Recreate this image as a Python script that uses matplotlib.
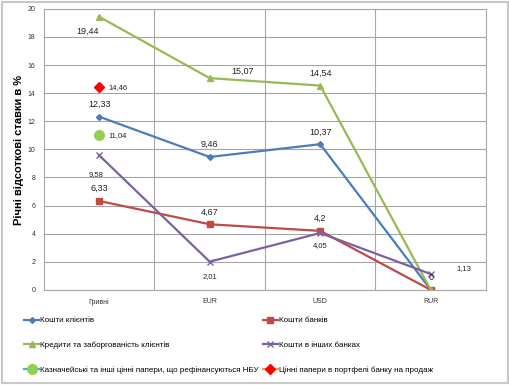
import matplotlib.pyplot as plt
import numpy as np

plt.rcParams['font.family'] = ['Liberation Sans', 'DejaVu Sans']

# categories and series values
categories = ['Гривні', 'EUR', 'USD', 'RUR']
klienty = [12.33, 9.46, 10.37, 0]
banky = [6.33, 4.67, 4.2, 0]
kredyty = [19.44, 15.07, 14.54, 0]
inshi_banky = [9.58, 2.01, 4.05, 1.13]
kaznach = [11.04]
papery = [14.46]

names = ['Кошти клієнтів', 'Кошти банків',
         'Кредити та заборгованість клієнтів', 'Кошти в інших банках',
         'Казначейські та інші цінні папери, що рефінансуються НБУ',
         'Цінні папери в портфелі банку на продаж']

x = np.arange(len(categories))

fig = plt.figure(figsize=(5.1, 3.85), dpi=100)
ax = fig.add_axes([0.086, 0.247, 0.867, 0.730])

h1, = ax.plot(x, klienty, color='#4A7EBB', lw=1.6, marker='D', ms=3)
h2, = ax.plot(x, banky, color='#BE4B48', lw=1.6, marker='s', ms=5)
h3, = ax.plot(x, kredyty, color='#98B954', lw=1.6, marker='^', ms=4.5)
h4, = ax.plot(x, inshi_banky, color='#7D60A0', lw=1.6, marker='x', ms=4, mew=1)
h5, = ax.plot(x[:1], kaznach, color='#4BACC6', lw=1.6, marker='o', ms=7,
              mfc='#92D050', mec='#92D050')
h6, = ax.plot(x[:1], papery, color='#F79646', lw=1.6, marker='D', ms=5,
              mfc='#FF0000', mec='#FF0000')

def fmt(v):
    return ('%g' % v).replace('.', ',')

lab = dict(fontsize=6.5, color='#222222')
# labels above the points
for i, v in enumerate(klienty[:3]):
    ax.annotate(fmt(v), (x[i], v), xytext=(0, 7), textcoords='offset points', ha='center', **lab)
for i, v in enumerate(banky[:3]):
    ax.annotate(fmt(v), (x[i], v), xytext=(0, 7), textcoords='offset points', ha='center', **lab)
ax.annotate(fmt(kredyty[0]), (x[0], kredyty[0]), xytext=(-8, -12), textcoords='offset points', ha='center', **lab)
ax.annotate(fmt(kredyty[1]), (x[1], kredyty[1]), xytext=(24, 3), textcoords='offset points', ha='center', **lab)
ax.annotate(fmt(kredyty[2]), (x[2], kredyty[2]), xytext=(0, 7), textcoords='offset points', ha='center', **lab)
ax.annotate(fmt(kredyty[3]), (x[3], kredyty[3]), xytext=(0, 7), textcoords='offset points', ha='center', **lab)
small = dict(fontsize=5.5, color='#222222')
ax.annotate(fmt(inshi_banky[0]), (x[0], inshi_banky[0]), xytext=(-2, -15), textcoords='offset points', ha='center', **small)
ax.annotate(fmt(inshi_banky[1]), (x[1], inshi_banky[1]), xytext=(0, -12), textcoords='offset points', ha='center', **small)
ax.annotate(fmt(inshi_banky[2]), (x[2], inshi_banky[2]), xytext=(0, -10), textcoords='offset points', ha='center', **small)
ax.annotate(fmt(inshi_banky[3]), (x[3], inshi_banky[3]), xytext=(24, 3), textcoords='offset points', ha='center', **small)
ax.annotate(fmt(kaznach[0]), (x[0], kaznach[0]), xytext=(7, -2), textcoords='offset points', ha='left', **small)
ax.annotate(fmt(papery[0]), (x[0], papery[0]), xytext=(7, -2), textcoords='offset points', ha='left', **small)

ax.set_xlim(-0.5, 3.5)
ax.set_ylim(0, 20)
ax.set_yticks(range(0, 21, 2))
ax.set_xticks(x)
ax.set_xticklabels(categories)
ax.tick_params(labelsize=5, length=0, colors='#333333', pad=6)
ax.set_xticks([0.5, 1.5, 2.5], minor=True)
ax.tick_params(which='minor', length=0)
ax.grid(True, axis='y', color='#A6A6A6', lw=0.8)
ax.grid(True, axis='x', which='minor', color='#A6A6A6', lw=0.8)
for s in ax.spines.values():
    s.set_color('#A6A6A6')
    s.set_linewidth(0.8)

fig.text(0.037, 0.61, 'Річні відсоткові ставки в %', rotation=90, fontsize=8,
         fontweight='bold', ha='center', va='center')

# two legend columns placed separately
leg_kw = dict(loc='upper left', frameon=False, fontsize=5.8, handlelength=1.9,
              handletextpad=0.15, labelspacing=2.1, borderaxespad=0, borderpad=0)
leg1 = fig.legend([h1, h3, h5], [names[0], names[2], names[4]],
                  bbox_to_anchor=(0.047, 0.177), **leg_kw)
leg2 = fig.legend([h2, h4, h6], [names[1], names[3], names[5]],
                  bbox_to_anchor=(0.515, 0.177), **leg_kw)

# light frame around the figure
fig.patches.append(plt.Rectangle((0.003, 0.004), 0.994, 0.992, transform=fig.transFigure,
                                 fill=False, edgecolor='#C8C8C8', lw=1.5))

fig.savefig('out.png', dpi=100, facecolor='white')
